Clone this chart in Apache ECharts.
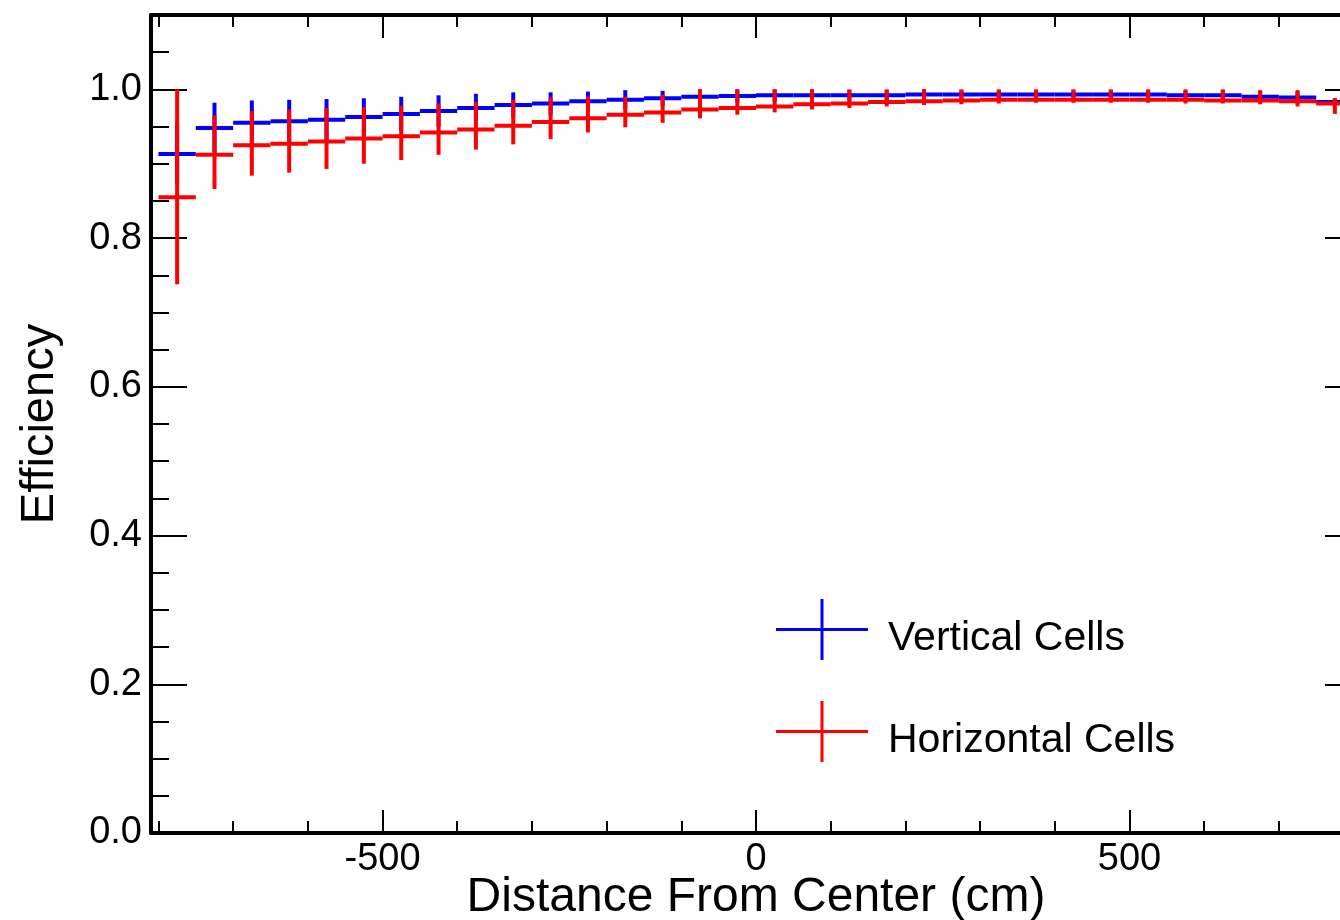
<!DOCTYPE html>
<html>
<head>
<meta charset="utf-8">
<script src="https://cdn.jsdelivr.net/npm/echarts@6/dist/echarts.min.js"></script>
<style>
  html, body { margin: 0; padding: 0; overflow: hidden; background: #fff; width: 1340px; height: 920px; }
  #chart { width: 1400px; height: 920px; }
</style>
</head>
<body>
<div id="chart"></div>
<script>
// ---- data ----
const binCenters = [-775, -725, -675, -625, -575, -525, -475, -425, -375, -325, -275, -225, -175, -125, -75, -25,
                    25, 75, 125, 175, 225, 275, 325, 375, 425, 475, 525, 575, 625, 675, 725, 775];
const binHalfWidth = 25;

const verticalEff = [0.913, 0.948, 0.955, 0.957, 0.959, 0.963, 0.967, 0.971, 0.975, 0.979, 0.981, 0.984, 0.986, 0.988, 0.990, 0.991,
                     0.992, 0.992, 0.992, 0.992, 0.993, 0.993, 0.993, 0.993, 0.993, 0.993, 0.993, 0.992, 0.992, 0.990, 0.989, 0.983];
const verticalErr = [0.040, 0.034, 0.030, 0.029, 0.028, 0.025, 0.023, 0.021, 0.019, 0.017, 0.015, 0.013, 0.013, 0.010, 0.010, 0.009,
                     0.008, 0.008, 0.007, 0.007, 0.007, 0.006, 0.006, 0.006, 0.006, 0.006, 0.006, 0.006, 0.007, 0.007, 0.008, 0.005];

const horizontalEff  = [0.855, 0.912, 0.925, 0.927, 0.930, 0.934, 0.937, 0.942, 0.946, 0.951, 0.956, 0.961, 0.966, 0.969, 0.973, 0.975,
                        0.977, 0.980, 0.981, 0.983, 0.984, 0.985, 0.986, 0.986, 0.986, 0.986, 0.986, 0.986, 0.985, 0.985, 0.984, 0.981];
const horizontalLow  = [0.738, 0.866, 0.884, 0.888, 0.893, 0.900, 0.905, 0.912, 0.919, 0.926, 0.933, 0.942, 0.949, 0.955, 0.961, 0.966,
                        0.969, 0.973, 0.975, 0.977, 0.979, 0.980, 0.981, 0.982, 0.982, 0.982, 0.982, 0.981, 0.981, 0.980, 0.977, 0.967];
const horizontalHigh = [1.000, 0.965, 0.971, 0.973, 0.975, 0.976, 0.978, 0.981, 0.983, 0.986, 0.989, 0.990, 0.990, 0.993, 1.000, 1.000,
                        1.000, 1.000, 1.000, 1.000, 1.000, 1.000, 1.000, 1.000, 1.000, 1.000, 1.000, 1.000, 1.000, 0.999, 0.999, 0.988];

const xRange = [-810, 810];
const yRange = [0, 1.1];
const xMajorTicks = [-500, 0, 500];
const xMinorTicks = [-800, -700, -600, -400, -300, -200, -100, 100, 200, 300, 400, 600, 700, 800];
const yMajorTicks = [0, 0.2, 0.4, 0.6, 0.8, 1.0];
const yMinorTicks = [0.05, 0.1, 0.15, 0.25, 0.3, 0.35, 0.45, 0.5, 0.55, 0.65, 0.7, 0.75, 0.85, 0.9, 0.95, 1.05];

const seriesNames = ['Vertical Cells', 'Horizontal Cells'];
const xTitle = 'Distance From Center (cm)';
const yTitle = 'Efficiency';

// ---- build ----
const FONT = '"Liberation Sans", Arial, Helvetica, sans-serif';
const BLUE = '#0000ff', RED = '#ff0000';

const verticalData = binCenters.map((c, i) => [c, verticalEff[i], verticalEff[i] - verticalErr[i], verticalEff[i] + verticalErr[i]]);
const horizontalData = binCenters.map((c, i) => [c, horizontalEff[i], horizontalLow[i], horizontalHigh[i]]);

function makeRender(color) {
  return function (params, api) {
    const x = api.value(0), y = api.value(1), lo = api.value(2), hi = api.value(3);
    const pL = api.coord([x - binHalfWidth, y]);
    const pR = api.coord([x + binHalfWidth, y]);
    const pLo = api.coord([x, lo]);
    const pHi = api.coord([x, hi]);
    return {
      type: 'group',
      children: [
        { type: 'line', shape: { x1: pL[0], y1: pL[1], x2: pR[0], y2: pR[1] }, style: { stroke: color, lineWidth: 4, lineCap: 'butt' } },
        { type: 'line', shape: { x1: pLo[0], y1: pLo[1], x2: pHi[0], y2: pHi[1] }, style: { stroke: color, lineWidth: 4, lineCap: 'butt' } }
      ]
    };
  };
}

const tickStyle = { color: '#000', width: 2 };
function xAxisDef(position, ticks, len, showLine, withLabels) {
  const a = {
    type: 'value', position: position, min: xRange[0], max: xRange[1],
    axisLine: { show: showLine, onZero: false, lineStyle: { color: '#000', width: 4 } },
    axisTick: { show: true, inside: true, length: len, customValues: ticks, lineStyle: tickStyle },
    axisLabel: withLabels ? { show: true, customValues: ticks, fontSize: 38, color: '#000', fontFamily: FONT, margin: 8 } : { show: false },
    splitLine: { show: false }
  };
  if (withLabels) {
    a.name = xTitle; a.nameLocation = 'middle'; a.nameGap = 41; a.nameMoveOverlap = false;
    a.nameTextStyle = { fontSize: 48, color: '#000', fontFamily: FONT };
  }
  return a;
}
function yAxisDef(position, ticks, len, showLine, withLabels) {
  const a = {
    type: 'value', position: position, min: yRange[0], max: yRange[1],
    axisLine: { show: showLine, onZero: false, lineStyle: { color: '#000', width: 4 } },
    axisTick: { show: true, inside: true, length: len, customValues: ticks, lineStyle: tickStyle },
    axisLabel: withLabels ? { show: true, customValues: ticks, fontSize: 38, color: '#000', fontFamily: FONT, margin: 9,
                              formatter: v => Number(v).toFixed(1) } : { show: false },
    splitLine: { show: false }
  };
  if (withLabels) {
    a.name = yTitle; a.nameLocation = 'middle'; a.nameGap = 87; a.nameMoveOverlap = false;
    a.nameTextStyle = { fontSize: 47, color: '#000', fontFamily: FONT };
  }
  return a;
}

// cross drawn in the upper 61px of a 79px-tall icon box so the label sits slightly below the cross bar
const crossIcon = 'path://M0,29 L92,29 L92,32 L0,32 Z M44.5,0 L47.5,0 L47.5,61 L44.5,61 Z M46,79 L46,79';

const option = {
  animation: false,
  backgroundColor: '#fff',
  grid: { left: 151, top: 15, bottom: 87, right: 39, containLabel: false, outerBoundsMode: 'none' },
  xAxis: [
    xAxisDef('bottom', xMajorTicks, 23, true, true),
    xAxisDef('bottom', xMinorTicks, 12, false, false),
    xAxisDef('top', xMajorTicks, 23, true, false),
    xAxisDef('top', xMinorTicks, 12, false, false)
  ],
  yAxis: [
    yAxisDef('left', yMajorTicks, 36, true, true),
    yAxisDef('left', yMinorTicks, 18, false, false),
    yAxisDef('right', yMajorTicks, 36, true, false),
    yAxisDef('right', yMinorTicks, 18, false, false)
  ],
  legend: {
    orient: 'vertical', left: 776, top: 599, padding: 0,
    itemWidth: 92, itemHeight: 79, itemGap: 23,
    selectedMode: false,
    itemStyle: { borderWidth: 0 },
    textStyle: { fontSize: 41, color: '#000', fontFamily: FONT, padding: [0, 0, 0, 15] },
    data: [
      { name: seriesNames[0], icon: crossIcon },
      { name: seriesNames[1], icon: crossIcon }
    ]
  },
  series: [
    { type: 'custom', name: seriesNames[0], xAxisIndex: 0, yAxisIndex: 0, itemStyle: { color: BLUE },
      renderItem: makeRender(BLUE), data: verticalData, encode: { x: 0, y: [1, 2, 3] } },
    { type: 'custom', name: seriesNames[1], xAxisIndex: 0, yAxisIndex: 0, itemStyle: { color: RED },
      renderItem: makeRender(RED), data: horizontalData, encode: { x: 0, y: [1, 2, 3] } }
  ]
};

const chart = echarts.init(document.getElementById('chart'), null, { renderer: 'canvas' });
chart.setOption(option);
</script>
</body>
</html>
